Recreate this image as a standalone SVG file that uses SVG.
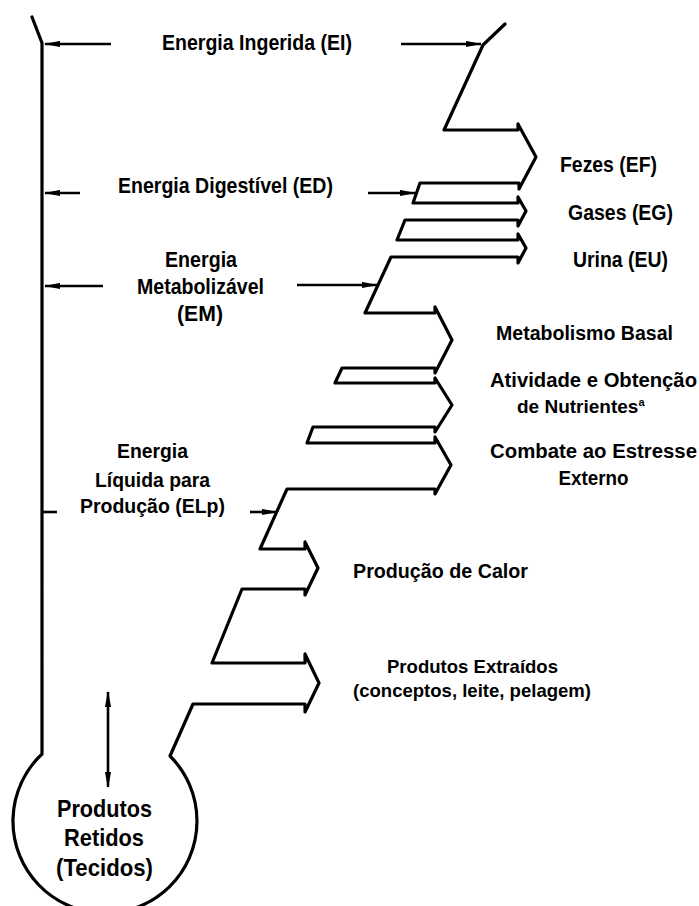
<svg xmlns="http://www.w3.org/2000/svg" width="699" height="906" viewBox="0 0 699 906">
  <style>
    .bg { fill: #ffffff; }
    .body { fill: none; stroke: #000; stroke-width: 3.2; stroke-linejoin: round; stroke-linecap: round; }
    .arr { fill: none; stroke: #000; stroke-width: 2.6; stroke-linecap: butt; }
    .t { font-family: "Liberation Sans Narrow", "Liberation Sans", Arial, sans-serif; font-weight: bold; fill: #000; text-anchor: middle; }
    .big { font-size: 22.5px; }
    .mid { font-size: 20px; }
    .sml { font-size: 19px; }
    .ret { font-size: 24px; }
  </style>
  <defs>
    <marker id="ah" viewBox="0 0 16 7" refX="15" refY="3.5" markerUnits="userSpaceOnUse" markerWidth="16" markerHeight="7" orient="auto-start-reverse">
      <path d="M0,0.4 L16,3.5 L0,6.6 z" fill="#000"/>
    </marker>
  </defs>
  <rect class="bg" x="0" y="0" width="699" height="906"/>

  <g id="flow-body">
    <path class="body" d="M32,17 L42,43 L42,754 A92,92 0 1 0 170,756 L193,704 L305,704 L305,712 L319,683 L305,654 L305,663 L212,663 L242,589 L305,589 L305,595 L318,568 L305,542 L305,549 L260,549 L287,489 L435,489 L435,494 L451,465 L435,437 L435,443 L307,443 L313,427 L435,427 L435,432 L452,405 L435,378 L435,383 L335,383 L342,368 L435,368 L435,373 L452,340 L435,307 L435,313 L365,313 L391,257 L518,257 L518,263 L526,248 L518,234 L518,240 L397,240 L405,220 L518,220 L518,226 L526,211 L518,197 L518,203 L413,203 L420,183 L519,183 L519,189 L536,157 L518,124 L518,130 L444,130 L483,45 L505,24"/>
  </g>

  <g id="connectors">
    <line class="arr" x1="111" y1="44" x2="45" y2="44" marker-end="url(#ah)"/>
    <line class="arr" x1="401" y1="44" x2="481" y2="44" marker-end="url(#ah)"/>
    <line class="arr" x1="80" y1="193" x2="45" y2="193" marker-end="url(#ah)"/>
    <line class="arr" x1="368" y1="193" x2="415" y2="193" marker-end="url(#ah)"/>
    <line class="arr" x1="103" y1="286" x2="45" y2="286" marker-end="url(#ah)"/>
    <line class="arr" x1="297" y1="285" x2="377" y2="285" marker-end="url(#ah)"/>
    <line class="arr" x1="57" y1="512" x2="43" y2="512" stroke-width="3.2"/>
    <line class="arr" x1="250" y1="512" x2="277" y2="512" marker-end="url(#ah)"/>
    <line class="arr" x1="108" y1="692" x2="108" y2="787" marker-start="url(#ah)" marker-end="url(#ah)"/>
  </g>

  <g id="label-ei">
    <text class="t big" x="257" y="50" textLength="190" lengthAdjust="spacingAndGlyphs">Energia Ingerida (EI)</text>
  </g>
  <g id="label-ed">
    <text class="t big" x="225.5" y="193" textLength="215" lengthAdjust="spacingAndGlyphs">Energia Digestível (ED)</text>
  </g>
  <g id="label-em">
    <text class="t big" x="201" y="267" textLength="72" lengthAdjust="spacingAndGlyphs">Energia</text>
    <text class="t big" x="200.5" y="294" textLength="127" lengthAdjust="spacingAndGlyphs">Metabolizável</text>
    <text class="t big" x="200" y="321" textLength="46" lengthAdjust="spacingAndGlyphs">(EM)</text>
  </g>
  <g id="label-elp">
    <text class="t mid" x="152.5" y="458" textLength="71" lengthAdjust="spacingAndGlyphs">Energia</text>
    <text class="t mid" x="152.5" y="487" textLength="115" lengthAdjust="spacingAndGlyphs">Líquida para</text>
    <text class="t mid" x="152.5" y="513" textLength="145" lengthAdjust="spacingAndGlyphs">Produção (ELp)</text>
  </g>
  <g id="label-ef">
    <text class="t big" x="608.5" y="172" textLength="97" lengthAdjust="spacingAndGlyphs">Fezes (EF)</text>
  </g>
  <g id="label-eg">
    <text class="t big" x="620.5" y="220" textLength="105" lengthAdjust="spacingAndGlyphs">Gases (EG)</text>
  </g>
  <g id="label-eu">
    <text class="t big" x="620.5" y="267" textLength="95" lengthAdjust="spacingAndGlyphs">Urina (EU)</text>
  </g>
  <g id="label-basal">
    <text class="t mid" x="584.5" y="340" textLength="177" lengthAdjust="spacingAndGlyphs">Metabolismo Basal</text>
  </g>
  <g id="label-atividade">
    <text class="t mid" x="593.5" y="387" textLength="207" lengthAdjust="spacingAndGlyphs">Atividade e Obtenção</text>
    <text class="t" x="517" y="413" font-size="19" style="text-anchor:start">de Nutrientes<tspan font-size="11" dy="-7">a</tspan></text>
  </g>
  <g id="label-estresse">
    <text class="t mid" x="593.5" y="458" textLength="207" lengthAdjust="spacingAndGlyphs">Combate ao Estresse</text>
    <text class="t mid" x="593.5" y="485" textLength="70" lengthAdjust="spacingAndGlyphs">Externo</text>
  </g>
  <g id="label-calor">
    <text class="t mid" x="440.5" y="578" textLength="175" lengthAdjust="spacingAndGlyphs">Produção de Calor</text>
  </g>
  <g id="label-extraidos">
    <text class="t sml" x="472.5" y="673" textLength="171" lengthAdjust="spacingAndGlyphs">Produtos Extraídos</text>
    <text class="t sml" x="472" y="697" textLength="238" lengthAdjust="spacingAndGlyphs">(conceptos, leite, pelagem)</text>
  </g>
  <g id="label-retidos">
    <text class="t ret" x="104.5" y="817" textLength="95" lengthAdjust="spacingAndGlyphs">Produtos</text>
    <text class="t ret" x="104" y="846" textLength="80" lengthAdjust="spacingAndGlyphs">Retidos</text>
    <text class="t ret" x="104.5" y="876" textLength="97" lengthAdjust="spacingAndGlyphs">(Tecidos)</text>
  </g>
</svg>
